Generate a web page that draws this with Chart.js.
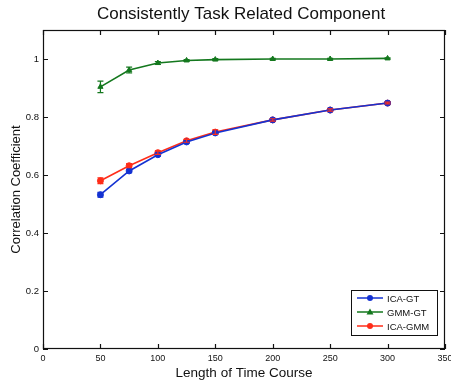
<!DOCTYPE html>
<html>
<head>
<meta charset="utf-8">
<script src="https://cdn.jsdelivr.net/npm/chart.js@4"></script>
<style>
  html, body { margin: 0; padding: 0; background: #fff; }
  #wrap { width: 451px; height: 385px; }
</style>
</head>
<body>
<div id="wrap"><canvas id="corrChart" width="451" height="385"></canvas></div>
<script>
// time course lengths and mean correlation per method
const lengths = [50, 75, 100, 125, 150, 200, 250, 300];
const icaGT = [0.532, 0.614, 0.670, 0.714, 0.745, 0.790, 0.824, 0.848];
const gmmGT = [0.904, 0.962, 0.986, 0.995, 0.998, 1.0, 1.0, 1.002];
const icaGMM = [0.580, 0.632, 0.677, 0.718, 0.748, 0.790, 0.824, 0.848];
// half-widths of the error bars
const icaGTErr = [0.008, 0.006, 0.005, 0.004, 0.004, 0.003, 0.003, 0.003];
const gmmGTErr = [0.020, 0.010, 0.005, 0.003, 0.003, 0.002, 0.002, 0.002];
const icaGMMErr = [0.010, 0.007, 0.006, 0.005, 0.008, 0.004, 0.004, 0.003];
const xTicks = [0, 50, 100, 150, 200, 250, 300, 350];
const yTicks = [0, 0.2, 0.4, 0.6, 0.8, 1];

const BLUE = 'rgb(20, 50, 210)';
const GREEN = 'rgb(20, 120, 30)';
const RED = 'rgb(255, 45, 25)';
const FONT = '"Liberation Sans", Arial, sans-serif';
const TITLE = 'Consistently Task Related Component';

function toPoints(ys) {
    return lengths.map((x, i) => ({ x: x, y: ys[i] }));
}

// error bars, box, inward tick marks, legend and title in the matlab style
const framePlugin = {
    id: 'frame',
    afterDatasetsDraw(chart) {
        const { ctx, chartArea: a, scales } = chart;
        const xs = scales.x, ys = scales.y;
        ctx.save();
        chart.data.datasets.forEach(ds => {
            ctx.strokeStyle = ds.borderColor;
            ctx.lineWidth = 1.2;
            ds.errors.forEach((e, i) => {
                const px = xs.getPixelForValue(ds.data[i].x);
                const top = ys.getPixelForValue(ds.data[i].y + e);
                const bot = ys.getPixelForValue(ds.data[i].y - e);
                ctx.beginPath();
                ctx.moveTo(px, top); ctx.lineTo(px, bot);
                ctx.moveTo(px - 3, top); ctx.lineTo(px + 3, top);
                ctx.moveTo(px - 3, bot); ctx.lineTo(px + 3, bot);
                ctx.stroke();
            });
        });

        ctx.strokeStyle = '#111';
        ctx.lineWidth = 1.2;
        ctx.strokeRect(a.left + 0.5, a.top + 0.5, a.right - a.left - 1, a.bottom - a.top - 1);
        ctx.beginPath();
        xTicks.forEach(v => {
            const px = Math.round(xs.getPixelForValue(v)) + 0.5;
            ctx.moveTo(px, a.bottom); ctx.lineTo(px, a.bottom - 5);
            ctx.moveTo(px, a.top); ctx.lineTo(px, a.top + 5);
        });
        yTicks.forEach(v => {
            const py = Math.round(ys.getPixelForValue(v)) + 0.5;
            ctx.moveTo(a.left, py); ctx.lineTo(a.left + 5, py);
            ctx.moveTo(a.right, py); ctx.lineTo(a.right - 5, py);
        });
        ctx.stroke();

        // title centred over the plot box
        ctx.fillStyle = '#111';
        ctx.font = '17px ' + FONT;
        ctx.textAlign = 'center';
        ctx.textBaseline = 'middle';
        ctx.fillText(TITLE, (a.left + a.right) / 2 - 3, 14);

        // legend box in the lower right corner
        const lx = 351, ly = 290, lw = 86, lh = 45;
        ctx.fillStyle = '#fff';
        ctx.fillRect(lx, ly, lw, lh);
        ctx.strokeStyle = '#111';
        ctx.lineWidth = 1;
        ctx.strokeRect(lx + 0.5, ly + 0.5, lw, lh);
        ctx.font = '9.5px ' + FONT;
        ctx.textAlign = 'left';
        chart.data.datasets.forEach((ds, i) => {
            const cy = ly + 8 + i * 14;
            ctx.strokeStyle = ds.borderColor;
            ctx.lineWidth = 1.5;
            ctx.beginPath();
            ctx.moveTo(lx + 6, cy); ctx.lineTo(lx + 32, cy);
            ctx.stroke();
            ctx.fillStyle = ds.borderColor;
            ctx.beginPath();
            if (ds.pointStyle === 'triangle') {
                ctx.moveTo(lx + 19, cy - 3.5);
                ctx.lineTo(lx + 22.5, cy + 2.5);
                ctx.lineTo(lx + 15.5, cy + 2.5);
                ctx.closePath();
            } else {
                ctx.arc(lx + 19, cy, 3, 0, Math.PI * 2);
            }
            ctx.fill();
            ctx.fillStyle = '#111';
            ctx.fillText(ds.label, lx + 36, cy + 1);
        });
        ctx.restore();
    }
};

const ctx = document.getElementById('corrChart').getContext('2d');
new Chart(ctx, {
    type: 'line',
    data: {
        datasets: [
            { label: 'ICA-GT', data: toPoints(icaGT), errors: icaGTErr, borderColor: BLUE, backgroundColor: BLUE, pointStyle: 'circle' },
            { label: 'GMM-GT', data: toPoints(gmmGT), errors: gmmGTErr, borderColor: GREEN, backgroundColor: GREEN, pointStyle: 'triangle' },
            { label: 'ICA-GMM', data: toPoints(icaGMM), errors: icaGMMErr, borderColor: RED, backgroundColor: RED, pointStyle: 'circle' }
        ]
    },
    options: {
        responsive: false,
        animation: false,
        parsing: false,
        elements: {
            line: { borderWidth: 1.6, tension: 0 },
            point: { radius: 3, borderWidth: 1 }
        },
        layout: { padding: { top: 30, right: 6, left: 9, bottom: 0 } },
        plugins: {
            legend: { display: false },
            tooltip: { enabled: false },
            title: { display: false }
        },
        scales: {
            x: {
                type: 'linear',
                min: 0,
                max: 350,
                afterBuildTicks: s => { s.ticks = xTicks.map(v => ({ value: v })); },
                // let the last label run off the edge instead of shrinking the plot
                afterFit: s => { s.height = 36; s.paddingRight = 0; s.paddingLeft = 0; },
                grid: { display: false, drawTicks: false, tickLength: 0 },
                border: { display: false },
                ticks: { color: '#111', font: { family: FONT, size: 9 }, padding: 4, maxRotation: 0 },
                title: {
                    display: true,
                    text: 'Length of Time Course',
                    color: '#111',
                    font: { family: FONT, size: 13.5 },
                    padding: { top: 0, bottom: 4 }
                }
            },
            y: {
                min: 0,
                max: 1.1,
                afterBuildTicks: s => { s.ticks = yTicks.map(v => ({ value: v })); },
                afterFit: s => { s.width = 34; },
                grid: { display: false, drawTicks: false, tickLength: 0 },
                border: { display: false },
                ticks: {
                    color: '#111',
                    font: { family: FONT, size: 9.5 },
                    padding: 4,
                    callback: v => String(v)
                },
                title: {
                    display: true,
                    text: 'Correlation Coefficient',
                    color: '#111',
                    font: { family: FONT, size: 13 },
                    padding: { top: 0, bottom: 1 }
                }
            }
        }
    },
    plugins: [framePlugin]
});
</script>
</body>
</html>
